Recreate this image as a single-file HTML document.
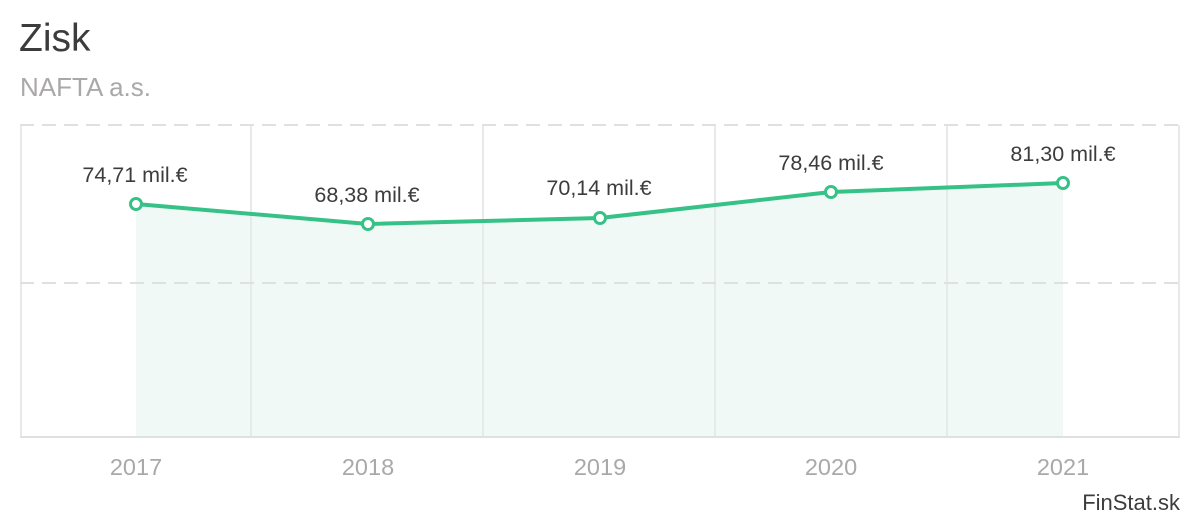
<!DOCTYPE html>
<html><head><meta charset="utf-8"><style>
body{margin:0;width:1200px;height:520px;background:#fff;overflow:hidden;font-family:"Liberation Sans",sans-serif}
</style></head><body>
<svg width="1200" height="520" xmlns="http://www.w3.org/2000/svg" font-family="Liberation Sans, sans-serif">
<text x="19" y="51" font-size="39" fill="#3c3c3c">Zisk</text>
<text x="20" y="96" font-size="26" fill="#aaa8a8">NAFTA a.s.</text>
<polygon points="136,204 368,224 600,218 831,192 1063,183 1063,437 136,437" fill="#f0f9f5"/>
<g stroke="#e6eaea" stroke-width="2">
<line x1="21" y1="125" x2="21" y2="437"/>
<line x1="251" y1="125" x2="251" y2="437"/>
<line x1="483" y1="125" x2="483" y2="437"/>
<line x1="715" y1="125" x2="715" y2="437"/>
<line x1="947" y1="125" x2="947" y2="437"/>
<line x1="1179" y1="125" x2="1179" y2="437"/>
</g>
<g stroke="#e0e0e0" stroke-width="2" stroke-dasharray="14,8">
<line x1="20" y1="125" x2="1180" y2="125"/>
<line x1="20" y1="283" x2="1180" y2="283"/>
</g>
<line x1="20" y1="437" x2="1180" y2="437" stroke="#e0e0e0" stroke-width="2"/>
<polyline points="136,204 368,224 600,218 831,192 1063,183" fill="none" stroke="#36c287" stroke-width="4"/>
<g fill="#fff" stroke="#36c287" stroke-width="3">
<circle cx="136" cy="204" r="5.5"/><circle cx="368" cy="224" r="5.5"/><circle cx="600" cy="218" r="5.5"/><circle cx="831" cy="192" r="5.5"/><circle cx="1063" cy="183" r="5.5"/>
</g>
<g font-size="21.5" fill="#3c3c3c" text-anchor="middle">
<text x="135" y="182">74,71 mil.€</text>
<text x="367" y="202">68,38 mil.€</text>
<text x="599" y="195">70,14 mil.€</text>
<text x="831" y="170">78,46 mil.€</text>
<text x="1063" y="161">81,30 mil.€</text>
</g>
<g font-size="23.5" fill="#aaa8a8" text-anchor="middle">
<text x="136" y="475">2017</text><text x="368" y="475">2018</text><text x="600" y="475">2019</text><text x="831" y="475">2020</text><text x="1063" y="475">2021</text>
</g>
<text x="1180" y="510" font-size="22" fill="#3c3c3c" text-anchor="end">FinStat.sk</text>
</svg>
</body></html>
